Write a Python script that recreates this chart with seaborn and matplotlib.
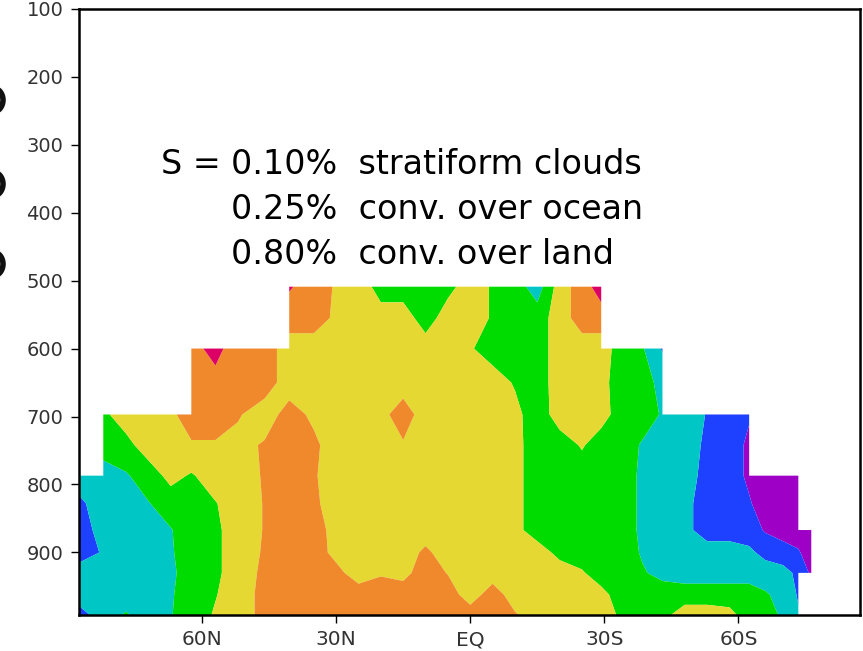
import numpy as np
import matplotlib
matplotlib.use("Agg")
import matplotlib.pyplot as plt
from matplotlib.patches import Ellipse
import seaborn as sns

N = np.nan

# latitude (deg, negative = north, positive = south)
lat = [-87.5, -82.1, -77, -72, -67, -62.4, -57, -52, -46, -40.5, -35, -30, -25, -20,
       -15, -10, -5, 0, 5, 10, 15, 20, 25, 29.3, 34, 38.5, 43, 48, 53, 58, 62.4,
       66, 70, 73.4, 76.3]

# pressure levels (hPa)
pressure = [509, 555, 600, 650, 697, 742, 787, 828, 867, 900, 930, 962, 992]

# class values (0 purple ... 6 magenta) per pressure level
p509 = [N, N, N, N, N, N, N, N, N, 5.6, 5, 4.4, 4.2, 3, 3, 3, 3.2, 4, 3.4, 3, 2, 4, 5, 6,
        N, N, N, N, N, N, N, N, N, N, N]
p555 = [N, N, N, N, N, N, N, N, N, 5, 5, 4.3, 4, 4, 4, 3, 4, 4, 3.4, 3, 3, 4, 5, 5,
        N, N, N, N, N, N, N, N, N, N, N]
p600 = [N, N, N, N, N, 5, 6, 4.6, 5, 4, 4, 4, 4, 4, 4, 4, 4, 3.6, 3, 3, 3, 4, 4, 4,
        3, 2.6, 1.4, N, N, N, N, N, N, N, N]
p650 = [N, N, N, N, N, 5, 5, 5, 5, 4, 4.3, 4, 4, 4, 4, 4, 4, 4, 4, 3.4, 3, 4, 4, 3.8,
        3, 2.9, 2.2, N, N, N, N, N, N, N, N]
p697 = [N, 3.3, 4, 4, 4.3, 5, 5, 4.6, 4, 4.9, 4.3, 4, 4, 4.2, 5, 4, 4, 4, 4, 3.8, 2.9, 4, 4, 3.9,
        3, 3, 2.4, 2, 1.45, 1, 0.6, N, N, N, N]
p742 = [N, 3, 3.2, 4, 4, 4.4, 4.4, 4.2, 4.6, 5, 4.7, 4, 4, 4, 4.4, 4, 4, 4, 4, 3.8, 3, 3, 3.6, 3,
        3, 2.4, 2, 2, 1.3, 1, 0.3, N, N, N, N]
p787 = [2, 2, 2.4, 3, 3.8, 3.4, 4, 4, 4.6, 5, 4.6, 4, 4, 4, 4, 4, 4, 4, 4, 3.8, 3, 3, 3, 3,
        3, 2.3, 2, 1.9, 1.2, 1, 0.3, 0, 0, 0, N]
p828 = [1.3, 2, 2, 2.45, 3, 3, 3.45, 4, 4.55, 5, 4.7, 4, 4, 4, 4, 4, 4, 4, 4, 3.8, 3, 3, 3, 3,
        3, 2.3, 2, 1.8, 1, 1, 0.6, 0, 0, 0, N]
p867 = [1.0, 1.9, 2, 2, 2.45, 3, 3.3, 4, 4.55, 5, 5, 4.1, 4, 4, 4, 4, 4, 4, 4, 3.8, 3, 3, 3, 3,
        3, 2.3, 2, 1.8, 1, 1, 1, 0.4, 0, 0, 0]
p900 = [1.0, 1.6, 2, 2, 2.4, 3, 3.3, 4, 4.6, 5, 5, 4.2, 4, 4, 4, 4.7, 4, 4, 4, 4, 4, 3.2, 3, 3,
        3, 2.4, 2, 2, 2, 2, 1.7, 1.2, 1, 0.6, 0]
p930 = [2, 2, 2, 2, 2.3, 3, 3.3, 4, 4.7, 5, 5, 4.8, 4, 4.4, 4.2, 5, 4.45, 4, 4, 4, 4, 4, 3.6, 3,
        3, 2.6, 2.2, 2, 2, 2, 2, 2, 1.8, 1.3, 0.3]
p962 = [2, 2, 2, 2, 2.4, 3, 3.45, 4, 4.8, 5, 5, 5, 5, 5, 5, 5, 5, 4, 5, 4, 4, 4, 4, 3.8,
        3, 3, 3, 3, 3, 3, 3, 2.6, 2.2, 1.4, N]
p992 = [1.1, 2, 2.6, 2, 2.45, 3, 3.6, 4, 4.8, 5, 5, 5, 5, 5, 5, 5, 5, 5, 5, 4.6, 4, 4, 4, 4,
        3.3, 3, 3.2, 4, 4, 3.8, 3, 3, 2.3, 1.6, N]

class_colors = ["#9E00C6", "#1E40FF", "#00C6C6", "#00DC00", "#E6D832", "#F0882C", "#DC0066"]
class_bounds = [-0.5, 0.5, 1.5, 2.5, 3.5, 4.5, 5.5, 6.5]

x_ticks = [-60, -30, 0, 30, 60]
x_labels = ["60N", "30N", "EQ", "30S", "60S"]
y_ticks = [100, 200, 300, 400, 500, 600, 700, 800, 900]

sns.set_theme(style="white")
plt.rcParams['font.family'] = ['DejaVu Sans']

W, H = 863, 651
fig = plt.figure(figsize=(W / 100, H / 100), dpi=100)
ax = fig.add_axes([78.7 / W, 1 - 615 / H, (860 - 78.7) / W, (615 - 8.7) / H])

Z = np.ma.masked_invalid(np.array([p509, p555, p600, p650, p697, p742, p787, p828,
                                   p867, p900, p930, p962, p992], dtype=float))
ax.contourf(lat, pressure, Z, levels=class_bounds, colors=class_colors,
            corner_mask=False, antialiased=True)

ax.set_xlim(-87.6, 87.2)
ax.set_ylim(992, 100)
ax.set_xticks(x_ticks)
ax.set_xticklabels(x_labels)
ax.set_yticks(y_ticks)
ax.set_yticklabels([str(v) for v in y_ticks])
ax.tick_params(axis='both', direction='out', length=6, width=1, color='black',
               labelsize=14, labelcolor='#333333', pad=5, bottom=True, left=True)
ax.tick_params(axis='x', labelsize=14.5)
for s in ax.spines.values():
    s.set_visible(True)
    s.set_color('black')
    s.set_linewidth(1.8)
ax.set_facecolor('white')
ax.grid(False)

tfont = dict(fontsize=24, color='black', va='center', ha='left')
fig.text(161 / W, 1 - 164 / H, "S =", **tfont)
fig.text(231 / W, 1 - 164 / H, "0.10%  stratiform clouds", **tfont)
fig.text(231 / W, 1 - 210 / H, "0.25%  conv. over ocean", **tfont)
fig.text(231 / W, 1 - 255 / H, "0.80%  conv. over land", **tfont)

# cut-off glyph fragments at the far left edge of the original image
for yc in (100, 184, 264):
    fig.patches.append(Ellipse((-7 / W, 1 - yc / H), 20 / W, 24 / H,
                               transform=fig.transFigure, facecolor='none',
                               edgecolor='#111111', linewidth=4))

fig.savefig("out.png", dpi=100, facecolor='white')
